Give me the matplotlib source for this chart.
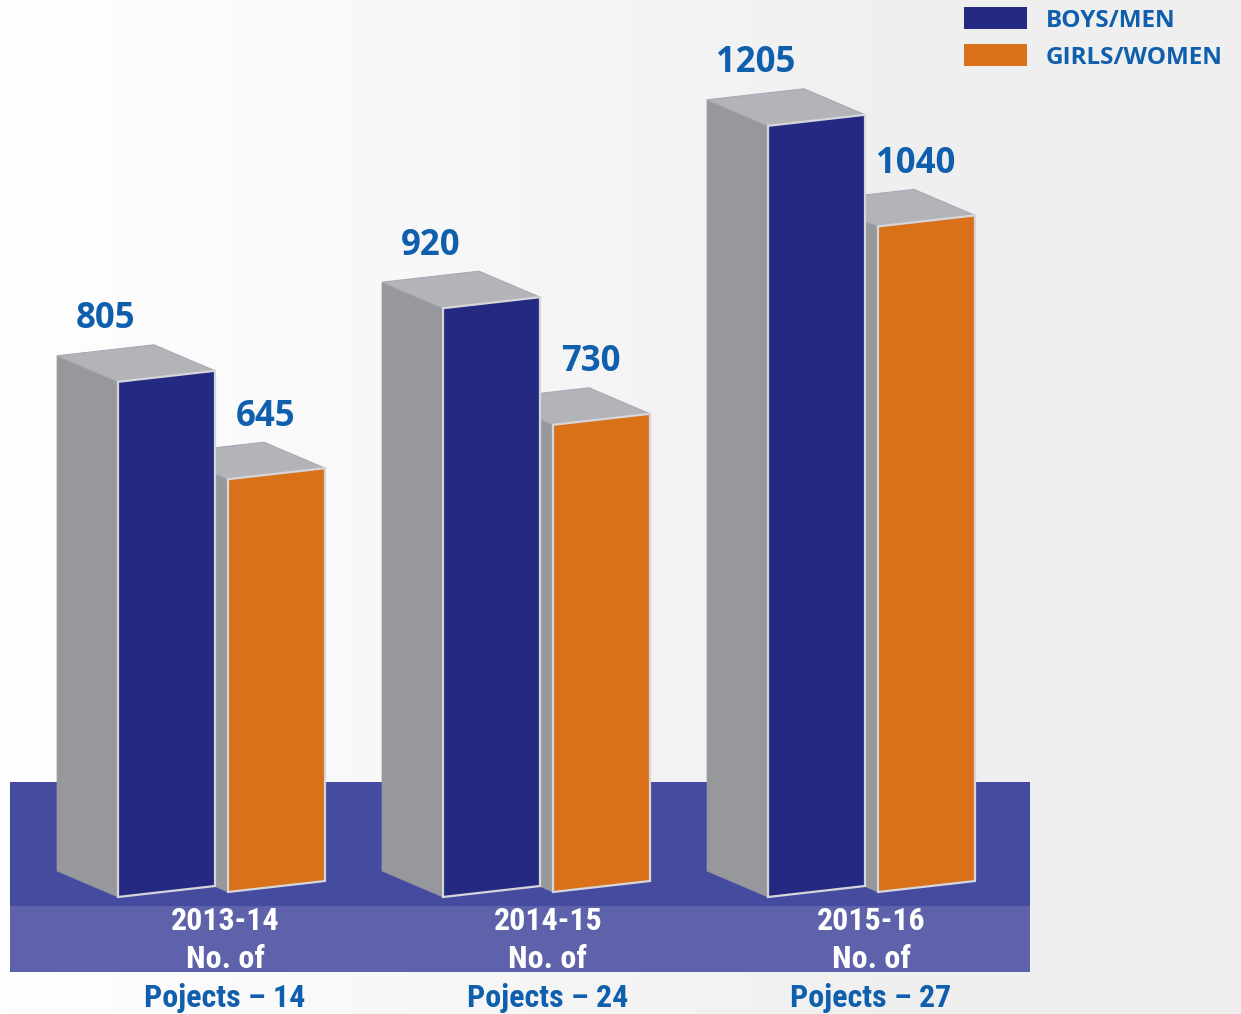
import matplotlib
matplotlib.use('Agg')
import matplotlib.pyplot as plt
from matplotlib.patches import Polygon, Rectangle
from matplotlib import font_manager
import numpy as np

# data
years = ['2013-14', '2014-15', '2015-16']
projects = [14, 24, 27]
boys = [805, 920, 1205]
girls = [645, 730, 1040]
series_names = ['BOYS/MEN', 'GIRLS/WOMEN']

NAVY = '#242a82'
ORANGE = '#d9711a'
SIDE = '#97989c'
TOP = '#b3b4b8'
EDGE = '#d6d6da'
LABEL_BLUE = '#0f5fad'

W, H = 1241, 1014
PX = 0.64          # pixels per unit value
BASE_PX = 897      # pixel row of the value 0 baseline


def py(p):
    # pixel row -> value units
    return (BASE_PX - p) / PX


# pick a condensed face for the bottom labels if one is installed
narrow_family = 'Roboto'
for f in font_manager.fontManager.ttflist:
    if 'Condensed' in f.name or 'Narrow' in f.name:
        if f.name.startswith(('Roboto', 'Open Sans', 'Liberation Sans', 'DejaVu Sans')):
            narrow_family = f.name
            break

fig = plt.figure(figsize=(W / 100, H / 100), dpi=100)
ax = fig.add_axes([0, 0, 1, 1])
ax.set_xlim(0, W)
ax.set_ylim(py(H), py(0))
ax.axis('off')

# background gradient
grad = np.linspace(0, 1, 256)
bg = np.ones((2, 256, 3))
for c in range(3):
    bg[:, :, c] = 1.0 - 0.06 * np.minimum(grad * 1.4, 1.0)
ax.imshow(bg, extent=[0, W, py(H), py(0)], aspect='auto', zorder=0)

# bands
ax.add_patch(Rectangle((10, py(906)), 1020, py(782) - py(906), color='#454b9f', zorder=1, lw=0))
ax.add_patch(Rectangle((10, py(972)), 1020, py(906) - py(972), color='#5d62ab', zorder=1, lw=0))

bar_w = 97
dx = -61
dy = 26 / PX
slant = 11 / PX
step = 325
x0 = 118
girls_gap = 110
girls_base = 5 / PX


def box(xl, y0, v, color, z):
    front = [(xl, y0), (xl + bar_w, y0 + slant), (xl + bar_w, y0 + slant + v), (xl, y0 + v)]
    side = [(xl, y0), (xl, y0 + v), (xl + dx, y0 + v + dy), (xl + dx, y0 + dy)]
    top = [(xl, y0 + v), (xl + bar_w, y0 + slant + v),
           (xl + bar_w + dx, y0 + slant + v + dy), (xl + dx, y0 + v + dy)]
    ax.add_patch(Polygon(side, closed=True, fc=SIDE, ec=SIDE, lw=0.5, zorder=z))
    ax.add_patch(Polygon(top, closed=True, fc=TOP, ec='#a8a9b6', lw=0.8, zorder=z))
    ax.add_patch(Polygon(front, closed=True, fc=color, ec=EDGE, lw=1.6, zorder=z + 0.1))


lab_font = dict(family=['Open Sans', 'DejaVu Sans'], fontweight='bold', color=LABEL_BLUE)
narrow = dict(family=[narrow_family, 'DejaVu Sans'], fontweight='bold',
              fontstretch='condensed', fontsize=23, zorder=10, ha='center', va='center')

for i in range(len(years)):
    xb = x0 + i * step
    xg = xb + girls_gap
    box(xg, girls_base, girls[i], ORANGE, 2 + i)
    box(xb, 0, boys[i], NAVY, 2.5 + i)
    ax.text(xb - 12, boys[i] + slant + dy + 40, str(boys[i]), ha='center', va='center',
            fontsize=25, zorder=10, **lab_font)
    ax.text(xg + 38, girls_base + girls[i] + slant + dy + 40, str(girls[i]), ha='center',
            va='center', fontsize=25, zorder=10, **lab_font)

    cx = xb + 107 - 2 * i
    ax.text(cx, py(921), years[i], color='white', **narrow)
    ax.text(cx, py(959), 'No. of', color='white', **narrow)
    ax.text(cx, py(998), f'Pojects \u2013 {projects[i]}', color=LABEL_BLUE, **narrow)

# legend
for k, (name, col) in enumerate(zip(series_names, [NAVY, ORANGE])):
    top_px = 7 + k * 37
    ax.add_patch(Rectangle((964, py(top_px + 22)), 63, py(top_px) - py(top_px + 22),
                           color=col, lw=0, zorder=10))
    ax.text(1046, py(top_px + 14), name, ha='left', va='center', fontsize=17.5, zorder=10,
            **lab_font)

fig.savefig('out.png', dpi=100)
